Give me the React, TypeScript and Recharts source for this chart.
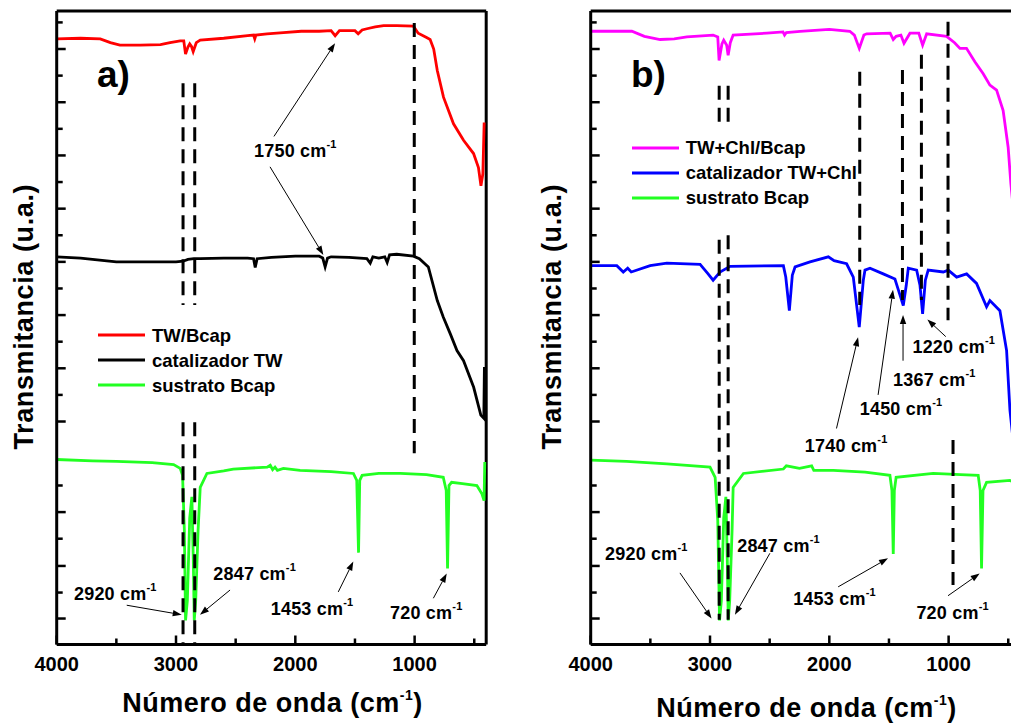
import React from 'react';
import { LineChart, Line, XAxis, YAxis, ReferenceLine, ReferenceDot, Legend } from 'recharts';

const FONT = '"Liberation Sans", Arial, Helvetica, sans-serif';

// ---------- Panel a) ----------
const redWn = [4000, 3800, 3635, 3550, 3470, 3300, 3130, 3050, 2965, 2935, 2920, 2900, 2885, 2870, 2856, 2830, 2797, 2600, 2400, 2350, 2340, 2330, 2237, 2100, 1950, 1800, 1700, 1666, 1630, 1500, 1473, 1440, 1400, 1330, 1260, 1150, 1010, 970, 900, 870, 840, 810, 758, 674, 590, 506, 465, 444, 428, 417];
const redT = [95.6, 95.7, 95.6, 95.0, 94.6, 94.6, 94.7, 95.0, 95.3, 95.3, 93.2, 94.3, 94.8, 94.4, 93.6, 95.0, 95.4, 95.7, 96.1, 96.2, 95.6, 96.2, 96.4, 96.6, 96.8, 96.8, 96.9, 96.1, 96.9, 96.9, 96.4, 97.0, 97.2, 97.5, 97.7, 97.7, 97.6, 96.5, 95.8, 95.5, 94.0, 90.6, 86.4, 82.2, 79.6, 77.5, 75.3, 72.4, 74.3, 82.4];

const blackWn = [4000, 3800, 3600, 3500, 3200, 3000, 2940, 2900, 2850, 2797, 2600, 2400, 2350, 2336, 2320, 2200, 2000, 1800, 1770, 1750, 1730, 1700, 1550, 1400, 1372, 1350, 1300, 1250, 1230, 1210, 1150, 1010, 960, 885, 810, 760, 700, 645, 590, 505, 445, 420, 415];
const blackT = [61.2, 61.0, 60.6, 60.4, 60.4, 60.4, 60.5, 60.8, 60.9, 60.9, 61.0, 61.0, 60.9, 59.5, 60.9, 61.1, 61.3, 61.3, 61.0, 59.6, 61.0, 61.2, 61.1, 60.9, 60.2, 61.2, 61.0, 61.2, 60.3, 61.5, 61.6, 61.3, 60.9, 59.6, 54.3, 51.7, 49.0, 46.4, 44.8, 40.6, 36.2, 35.7, 43.8];

const greenAWn = [4000, 3700, 3500, 3200, 3020, 2965, 2945, 2930, 2920, 2905, 2885, 2867, 2855, 2847, 2835, 2815, 2797, 2741, 2600, 2520, 2236, 2210, 2190, 2170, 2150, 2100, 1960, 1700, 1513, 1485, 1470, 1460, 1440, 1300, 1120, 900, 760, 735, 724, 712, 690, 600, 478, 436, 418, 412];
const greenAT = [29.2, 29.0, 28.9, 28.7, 28.4, 27.8, 26.7, 18.0, 3.8, 6.9, 20.0, 23.3, 13.3, 3.8, 6.9, 18.0, 24.8, 27.0, 27.4, 27.7, 28.0, 28.3, 27.6, 28.0, 27.5, 27.8, 27.5, 27.3, 27.0, 25.9, 14.5, 25.9, 26.7, 27.0, 27.0, 26.8, 26.4, 24.3, 12.0, 25.1, 25.6, 25.4, 25.1, 23.8, 22.7, 28.8];

// ---------- Panel b) ----------
const magentaWn = [4000, 3655, 3550, 3418, 3300, 3194, 2974, 2935, 2924, 2900, 2885, 2860, 2848, 2830, 2806, 2524, 2388, 2375, 2360, 2245, 2000, 1828, 1790, 1749, 1710, 1687, 1490, 1464, 1440, 1400, 1374, 1324, 1250, 1218, 1184, 1017, 950, 905, 850, 780, 710, 654, 598, 543, 501, 478, 440, 400];
const magentaT = [96.8, 96.8, 96.0, 95.5, 95.6, 95.9, 96.2, 95.9, 92.2, 94.8, 95.4, 94.6, 93.0, 95.0, 96.2, 96.5, 96.7, 96.2, 96.6, 96.8, 97.1, 96.8, 96.2, 94.1, 96.2, 96.4, 96.5, 95.5, 96.0, 96.2, 94.9, 96.5, 96.5, 94.6, 96.4, 96.0, 95.0, 94.1, 94.1, 92.0, 90.1, 88.3, 87.5, 84.3, 78.5, 72.7, 65.4, 60.6];

const blueWn = [4000, 3781, 3727, 3690, 3660, 3502, 3362, 3083, 3016, 2974, 2916, 2832, 2385, 2365, 2335, 2310, 2287, 2162, 2008, 1960, 1855, 1799, 1749, 1715, 1701, 1659, 1548, 1450, 1420, 1380, 1355, 1338, 1268, 1240, 1218, 1195, 1171, 1045, 1003, 933, 849, 766, 682, 654, 570, 514, 486, 450, 400];
const blueT = [59.8, 59.8, 58.8, 59.4, 58.8, 59.8, 60.2, 60.0, 58.5, 57.5, 58.8, 59.7, 59.8, 58.0, 52.7, 58.3, 59.6, 60.4, 61.2, 60.6, 60.1, 58.0, 50.1, 57.5, 59.1, 59.4, 58.5, 57.7, 55.9, 53.5, 56.7, 59.4, 59.1, 56.7, 52.2, 57.5, 59.1, 58.8, 59.1, 58.0, 58.5, 57.0, 53.3, 54.3, 52.7, 46.4, 37.0, 30.6, 25.9];

const greenBWn = [4000, 3700, 3362, 3000, 2957, 2935, 2920, 2905, 2885, 2867, 2855, 2847, 2835, 2815, 2806, 2720, 2385, 2360, 2250, 2148, 2130, 1966, 1700, 1492, 1475, 1464, 1455, 1440, 1129, 900, 752, 735, 724, 712, 682, 486, 400];
const greenBT = [29.1, 28.9, 28.5, 28.0, 26.4, 19.6, 3.8, 6.9, 20.0, 23.3, 13.3, 3.8, 6.9, 18.0, 24.8, 27.0, 27.7, 28.2, 27.8, 28.2, 27.5, 27.5, 27.2, 26.7, 24.3, 14.3, 24.3, 26.4, 27.0, 26.8, 26.7, 24.3, 12.0, 24.3, 25.6, 25.9, 25.1];

// ---------- axes ----------
const xTicks = [4000, 3500, 3000, 2500, 2000, 1500, 1000, 500];
const xTickLabels = ['4000', '', '3000', '', '2000', '', '1000', ''];
const yTicks = [4.1, 8.2, 12.4, 16.7, 20.9, 25.1, 35.2, 39.4, 43.6, 47.8, 52.0, 56.2, 60.4, 64.6, 68.8, 73.0, 77.2, 81.4, 85.6, 89.8, 94.0, 98.2];

// ---------- annotations ----------
// label [text, wavenumber, y]
const labelsA: [string, number, number][] = [
  ['1750', 2346, 76.95], ['2920', 3855, 7.0], ['2847', 2687, 10.2], ['1453', 2206, 4.6], ['720', 1206, 4.0],
];
const arrowsA = [
  [2179, 80.2, 1667, 94.9], [2212, 75.4, 1765, 61.5], [3413, 6.2, 2952, 4.7],
  [2547, 8.6, 2799, 4.7], [1640, 8.3, 1514, 13.1], [843, 7.3, 731, 11.2],
];
const dashesA = [
  [2941, 88.6, 53.6], [2843, 88.6, 53.6], [2941, 35.1, 0], [2843, 35.1, 0], [1003, 98.1, 30.2],
];

const labelsB: [string, number, number][] = [
  ['1220', 1303, 46.0], ['1367', 1466, 40.8], ['1450', 1745, 36.2], ['1740', 2205, 30.4],
  ['2920', 3880, 13.3], ['2847', 2772, 14.6], ['1453', 2303, 6.2], ['720', 1270, 4.1],
];
const arrowsB = [
  [1024, 48.6, 1178, 51.3], [1382, 44.8, 1382, 52.0], [1591, 39.4, 1466, 56.0], [1940, 34.1, 1759, 48.5],
  [3252, 11.3, 2987, 4.1], [2498, 14.4, 2791, 4.7], [1926, 9.1, 1508, 13.6], [1005, 7.7, 740, 11.2],
];
const dashesB = [
  [2923, 88.2, 82.0], [2848, 88.2, 82.0], [2923, 63.9, 3.9], [2848, 64.6, 3.9],
  [1745, 90.4, 53.6], [1387, 90.7, 54.4], [1228, 93.1, 54.4], [1005, 98.3, 51.2], [963, 32.3, 9.4],
];

const toData = (wn: number[], t: number[]) => wn.map((x, i) => ({ x, y: t[i] }));

const XTick = (p: any) => {
  const { x, y, payload } = p;
  const idx = xTicks.indexOf(payload.value);
  const label = xTickLabels[idx] || '';
  const major = label !== '';
  return (
    <g>
      <line x1={x} x2={x} y1={y} y2={y - (major ? 9 : 6)} stroke="#000" strokeWidth={2.5} />
      {major && (
        <text x={x} y={y + 26.2} textAnchor="middle" fontFamily={FONT} fontWeight="bold" fontSize={20} fill="#000">
          {label}
        </text>
      )}
    </g>
  );
};

const YTick = (p: any) => {
  const { x, y, index } = p;
  const len = index % 2 === 0 ? 9 : 6;
  return <line x1={x} x2={x + len} y1={y} y2={y} stroke="#000" strokeWidth={2.5} />;
};

const Arrow = (p: any) => {
  const { x1, y1, x2, y2 } = p;
  const ang = Math.atan2(y2 - y1, x2 - x1);
  const L = 9, W = 3.2;
  const bx = x2 - L * Math.cos(ang), by = y2 - L * Math.sin(ang);
  const px = -Math.sin(ang) * W, py = Math.cos(ang) * W;
  return (
    <g>
      <line x1={x1} y1={y1} x2={bx} y2={by} stroke="#000" strokeWidth={1} />
      <polygon points={`${x2},${y2} ${bx + px},${by + py} ${bx - px},${by - py}`} fill="#000" />
    </g>
  );
};

const annoText = (label: string) => (p: any) => (
  <text x={p.cx} y={p.cy} fontFamily={FONT} fontWeight="bold" fontSize={18} fill="#000" letterSpacing={0.2}>
    {label} cm<tspan dy={-9} fontSize={11}>-1</tspan>
  </text>
);

const tagText = (label: string) => (p: any) => (
  <text x={p.cx} y={p.cy} fontFamily={FONT} fontWeight="bold" fontSize={37} fill="#000">{label}</text>
);

const renderLegend = (props: any) => (
  <div style={{ fontFamily: FONT, fontWeight: 'bold', fontSize: 18.5, color: '#000' }}>
    {(props.payload || []).map((e: any) => (
      <div key={e.value} style={{ display: 'flex', alignItems: 'center', height: 25, whiteSpace: 'nowrap' }}>
        <svg width={47} height={6} style={{ display: 'block' }}>
          <line x1={0} x2={47} y1={3} y2={3} stroke={e.color} strokeWidth={3.2} />
        </svg>
        <span style={{ marginLeft: 7, lineHeight: '25px' }}>{e.value}</span>
      </div>
    ))}
  </div>
);

type Series = { name: string; color: string; wn: number[]; t: number[] };

type PanelProps = {
  left: number;
  tag: string;
  series: Series[];
  labels: [string, number, number][];
  arrows: number[][];
  dashes: number[][];
  legendLeft: number;
  legendTop: number;
  yTitleX: number;
  xTitleY: number;
};

function Panel(props: PanelProps) {
  const { left, tag, series, labels, arrows, dashes, legendLeft, legendTop, yTitleX, xTitleY } = props;
  return (
    <div style={{ position: 'absolute', left, top: 0, width: 520, height: 723 }}>
      <LineChart width={520} height={723} margin={{ top: 11, right: 33.8, bottom: 0, left: 0 }}>
        <XAxis
          type="number"
          dataKey="x"
          domain={[400, 4000]}
          reversed
          ticks={xTicks}
          interval={0}
          height={78.5}
          tickSize={0}
          tickMargin={0}
          tickLine={false}
          axisLine={{ stroke: '#000', strokeWidth: 3 }}
          tick={XTick}
          label={(lp: any) => {
            const vb = lp.viewBox || { x: 56.7, width: 429.5 };
            return (
              <text x={vb.x + vb.width / 2 + 1} y={xTitleY} textAnchor="middle" fontFamily={FONT} fontWeight="bold" fontSize={27} letterSpacing={0.5} fill="#000">
                Número de onda (cm<tspan dy={-12} fontSize={14}>-1</tspan><tspan dy={12}>)</tspan>
              </text>
            );
          }}
        />
        <YAxis
          type="number"
          domain={[0, 100]}
          ticks={yTicks}
          interval={0}
          width={56.7}
          tickSize={0}
          tickMargin={0}
          tickLine={false}
          axisLine={{ stroke: '#000', strokeWidth: 3 }}
          tick={YTick}
          label={() => (
            <text x={yTitleX} y={316.7} transform={`rotate(-90 ${yTitleX} 316.7)`} textAnchor="middle" fontFamily={FONT} fontWeight="bold" fontSize={27} letterSpacing={0.6} fill="#000">
              Transmitancia (u.a.)
            </text>
          )}
        />
        <ReferenceLine y={100} stroke="#000" strokeWidth={3} ifOverflow="visible" />
        <ReferenceLine x={400} stroke="#000" strokeWidth={3} ifOverflow="visible" />
        {series.map((s) => (
          <Line
            key={s.name}
            data={toData(s.wn, s.t)}
            dataKey="y"
            name={s.name}
            stroke={s.color}
            strokeWidth={2.8}
            dot={false}
            type="linear"
            isAnimationActive={false}
          />
        ))}
        {dashes.map((d, i) => (
          <ReferenceLine
            key={'d' + i}
            segment={[{ x: d[0], y: d[1] }, { x: d[0], y: d[2] }]}
            stroke="#000"
            strokeWidth={3}
            strokeDasharray="14 8"
            ifOverflow="visible"
          />
        ))}
        {arrows.map((a, i) => (
          <ReferenceLine
            key={'a' + i}
            segment={[{ x: a[0], y: a[1] }, { x: a[2], y: a[3] }]}
            shape={Arrow}
            ifOverflow="visible"
          />
        ))}
        {labels.map((l, i) => (
          <ReferenceDot key={'l' + i} x={l[1]} y={l[2]} r={0} shape={annoText(l[0])} ifOverflow="visible" />
        ))}
        <ReferenceDot x={3662} y={88} r={0} shape={tagText(tag)} ifOverflow="visible" />
        <Legend
          layout="vertical"
          align="center"
          verticalAlign="middle"
          content={renderLegend}
          wrapperStyle={{ left: legendLeft, top: legendTop, width: 'auto', height: 'auto' }}
        />
      </LineChart>
    </div>
  );
}

export default function App() {
  const seriesA: Series[] = [
    { name: 'TW/Bcap', color: '#ff0000', wn: redWn, t: redT },
    { name: 'catalizador TW', color: '#000000', wn: blackWn, t: blackT },
    { name: 'sustrato Bcap', color: '#22ff22', wn: greenAWn, t: greenAT },
  ];
  const seriesB: Series[] = [
    { name: 'TW+Chl/Bcap', color: '#ff00ff', wn: magentaWn, t: magentaT },
    { name: 'catalizador TW+Chl', color: '#0000ff', wn: blueWn, t: blueT },
    { name: 'sustrato Bcap', color: '#22ff22', wn: greenBWn, t: greenBT },
  ];
  return (
    <div style={{ position: 'fixed', left: 0, top: 0, width: 1011, height: 723, overflow: 'hidden', background: '#fff' }}>
      <Panel left={0} tag="a)" series={seriesA} labels={labelsA} arrows={arrowsA} dashes={dashesA}
        legendLeft={98} legendTop={322.5} yTitleX={33} xTitleY={711.7} />
      <Panel left={534} tag="b)" series={seriesB} labels={labelsB} arrows={arrowsB} dashes={dashesB}
        legendLeft={97.7} legendTop={135.2} yTitleX={27} xTitleY={717.3} />
    </div>
  );
}
